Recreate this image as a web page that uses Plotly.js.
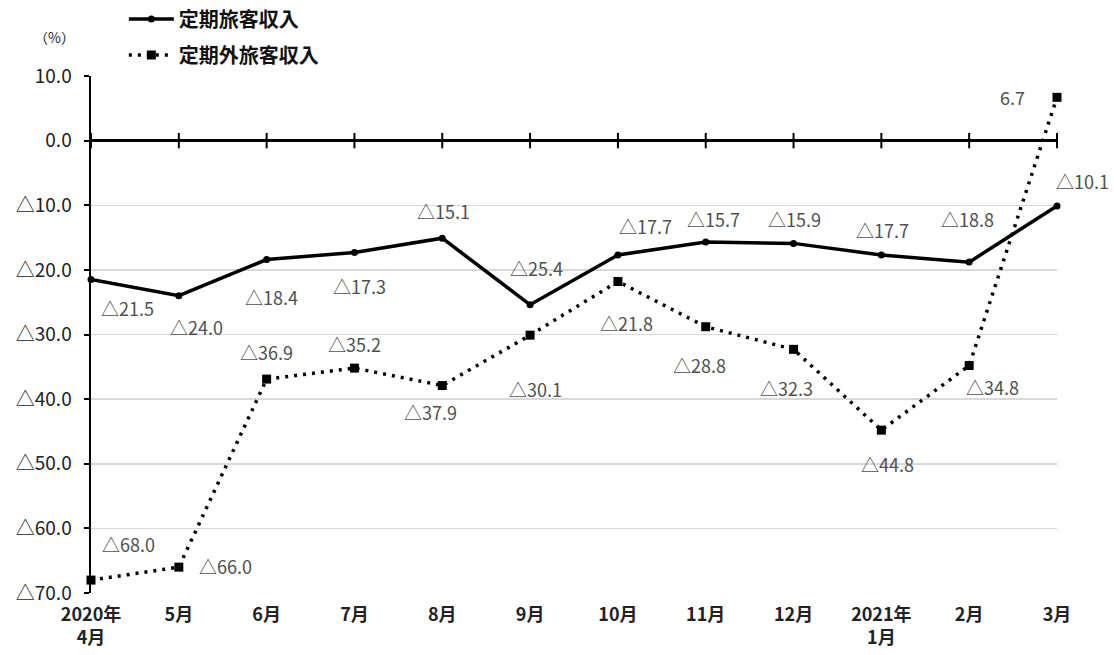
<!DOCTYPE html>
<html>
<head>
<meta charset="utf-8">
<script src="https://cdn.plot.ly/plotly-3.0.1.min.js"></script>
<style>html,body{margin:0;padding:0;background:#fff;}#chart{width:1114px;height:655px;}</style>
</head>
<body>
<div id="chart"></div>
<script>
var categories = ["2020年<br>4月","5月","6月","7月","8月","9月","10月","11月","12月","2021年<br>1月","2月","3月"];
var teikiValues = [-21.5,-24.0,-18.4,-17.3,-15.1,-25.4,-17.7,-15.7,-15.9,-17.7,-18.8,-10.1];
var teikigaiValues = [-68.0,-66.0,-36.9,-35.2,-37.9,-30.1,-21.8,-28.8,-32.3,-44.8,-34.8,6.7];
var seriesNames = ["定期旅客収入","定期外旅客収入"];
var yTickVals = [10,0,-10,-20,-30,-40,-50,-60,-70];
var yTickText = ["10.0","0.0","△10.0","△20.0","△30.0","△40.0","△50.0","△60.0","△70.0"];

// label pixel offsets (style only): [dx, dy] from each point, dy positive = down
var labelOffset1 = [[36,28],[18,31],[5,37],[5,34],[1,-27],[6,-37],[28,-29],[8,-23],[1,-24],[1,-25],[-2,-43],[25,-25]];
var labelOffset2 = [[37,-36],[47,-1],[0,-27],[0,-24],[-12,26],[5,54],[9,41],[-6,38],[-7,39],[6,34],[23,21],[-45,0]];

function fmt(v){ return (v < 0 ? "△" : "") + Math.abs(v).toFixed(1); }

var FONT = "'Noto Sans CJK JP', 'Noto Sans', sans-serif";
var labelFont = {family: FONT, size: 18, color: "#505050"};

var traces = [
  {
    x: categories, y: categories.map(function(){return 0;}),
    type: "scatter", mode: "markers", showlegend: false, hoverinfo: "skip",
    marker: {symbol: "line-ns", size: 11, line: {color: "#000", width: 2}},
    cliponaxis: false
  },
  {
    x: categories, y: teikiValues, name: seriesNames[0], legendgroup: "a",
    type: "scatter", mode: "lines+markers",
    line: {color: "#000", width: 3.5},
    marker: {symbol: "circle", size: 7, color: "#000"},
    cliponaxis: false
  },
  {
    x: categories, y: teikigaiValues, name: seriesNames[1], legendgroup: "b",
    type: "scatter", mode: "lines+markers",
    line: {color: "#000", width: 3.5, dash: "3px,6px"},
    marker: {symbol: "square", size: 9, color: "#000"},
    cliponaxis: false
  }
];

var annotations = [];
function addLabels(values, offsets){
  values.forEach(function(v, i){
    annotations.push({
      x: categories[i], y: v, xref: "x", yref: "y", text: fmt(v), showarrow: false,
      xanchor: "center", yanchor: "middle",
      xshift: offsets[i][0], yshift: -offsets[i][1], font: labelFont
    });
  });
}
addLabels(teikiValues, labelOffset1);
addLabels(teikigaiValues, labelOffset2);
annotations.push({text: "（%）", xref: "paper", yref: "paper", x: -0.0383, y: 1.0754,
  xanchor: "center", yanchor: "middle", showarrow: false, font: {family: FONT, size: 14, color: "#222"}});

var layout = {
  width: 1114, height: 655,
  margin: {l: 91, r: 57, t: 76, b: 62, autoexpand: false},
  paper_bgcolor: "#fff", plot_bgcolor: "#fff",
  font: {family: FONT, color: "#222"},
  showlegend: true,
  legend: {x: 0.034, y: 1.148, xanchor: "left", yanchor: "top", orientation: "v", itemwidth: 45,
           font: {family: FONT, size: 20, color: "#111", weight: "bold"}, tracegroupgap: 7, bgcolor: "rgba(0,0,0,0)"},
  xaxis: {
    type: "category", range: [0, 11], showgrid: false, zeroline: false, showline: false,
    ticks: "", ticklabelstandoff: 9, tickfont: {family: FONT, size: 18, color: "#222", weight: "bold"}, fixedrange: true
  },
  yaxis: {
    range: [-70, 10], tickvals: yTickVals, ticktext: yTickText,
    showgrid: true, gridcolor: "#d9d9d9", gridwidth: 1.5,
    zeroline: true, zerolinecolor: "#000", zerolinewidth: 2.5,
    showline: true, linecolor: "#000", linewidth: 2.5,
    ticks: "outside", ticklen: 5, tickwidth: 2, tickcolor: "#000", ticklabelstandoff: 8,
    tickfont: {family: FONT, size: 19, color: "#222"}, fixedrange: true
  },
  annotations: annotations
};

Plotly.newPlot("chart", traces, layout, {displayModeBar: false, staticPlot: true});
</script>
</body>
</html>
